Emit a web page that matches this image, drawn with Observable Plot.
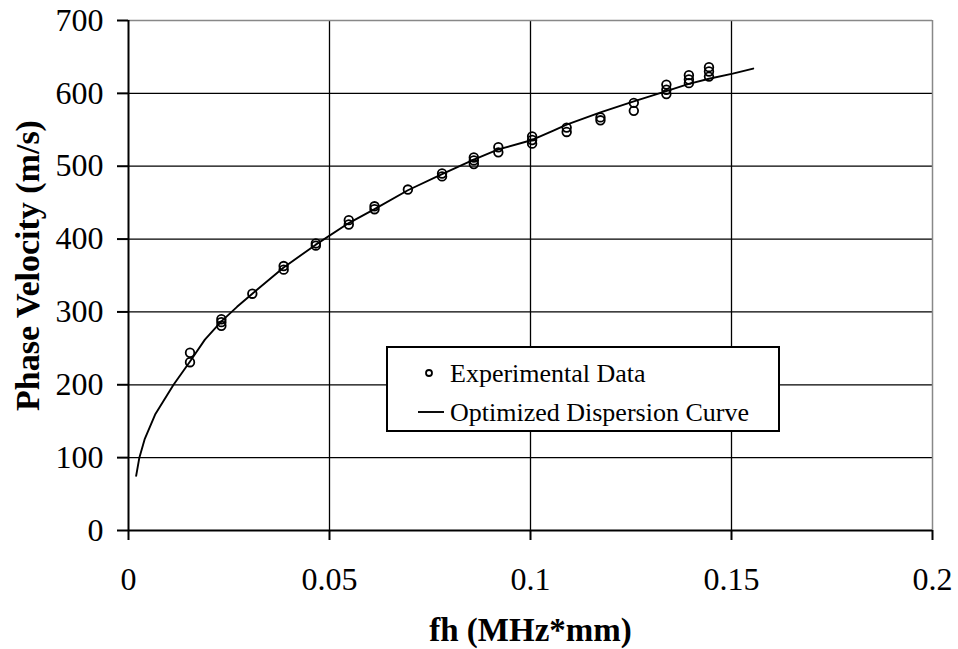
<!DOCTYPE html>
<html>
<head>
<meta charset="utf-8">
<script src="https://cdn.jsdelivr.net/npm/d3@7"></script>
<script src="https://cdn.jsdelivr.net/npm/@observablehq/plot@0.6"></script>
<style>
  html, body { margin: 0; padding: 0; background: white; }
  #wrap { position: relative; width: 958px; height: 649px; font-family: "Liberation Serif", "Times New Roman", serif; }
  #legend { position: absolute; left: 386px; top: 346px; width: 394px; height: 86px; box-sizing: border-box;
            border: 2px solid black; background: white; }
</style>
</head>
<body>
<div id="wrap"></div>
<script>
// Experimental data (fh in MHz*mm, phase velocity in m/s)
const expX = [
  0.0153, 0.0153,
  0.0231, 0.0231, 0.0231,
  0.0308,
  0.0386, 0.0386,
  0.0466, 0.0466,
  0.0548, 0.0548,
  0.0612, 0.0612,
  0.0695,
  0.0780, 0.0780,
  0.0859, 0.0859, 0.0859,
  0.0920, 0.0920,
  0.1004, 0.1004, 0.1004,
  0.1090, 0.1090,
  0.1174, 0.1174,
  0.1257, 0.1257,
  0.1338, 0.1338, 0.1338,
  0.1394, 0.1394, 0.1394,
  0.1444, 0.1444, 0.1444
];
const expY = [
  244, 231,
  290, 286, 281,
  325,
  358, 363,
  391, 394,
  420, 426,
  441, 445,
  468,
  486, 490,
  503, 508, 512,
  519, 526,
  531, 536, 541,
  547, 553,
  563, 567,
  576, 587,
  599, 605, 612,
  614, 619, 625,
  623, 630, 636
];
// Optimized dispersion curve
const curveX = [0.0019, 0.0027, 0.004, 0.0067, 0.0112, 0.0153, 0.0190, 0.0231, 0.0270, 0.0308,
  0.0386, 0.0465, 0.0548, 0.0612, 0.0695, 0.0780, 0.0859, 0.0920, 0.1004, 0.1057, 0.1090,
  0.1174, 0.1257, 0.1338, 0.1394, 0.1444, 0.1503, 0.1554];
const curveY = [75, 100, 125, 160, 200, 232, 262, 287, 307, 325,
  361, 392, 422, 441, 467, 489, 509, 523, 536, 549, 557,
  574, 589, 603, 613, 620, 627, 634];

const xTicks = [0, 0.05, 0.1, 0.15, 0.2];
const xTickLabels = ["0", "0.05", "0.1", "0.15", "0.2"];
const yTicks = [0, 100, 200, 300, 400, 500, 600, 700];
const xTitle = "fh (MHz*mm)";
const yTitle = "Phase Velocity (m/s)";
const legendLabels = ["Experimental Data", "Optimized Dispersion Curve"];

const points = expX.map((x, i) => ({x, y: expY[i]}));
const curve = curveX.map((x, i) => ({x, y: curveY[i]}));

const chart = Plot.plot({
  width: 958,
  height: 649,
  marginLeft: 128,
  marginRight: 26,
  marginTop: 20,
  marginBottom: 119,
  style: { fontFamily: "'Liberation Serif', 'Times New Roman', serif", fontSize: "32px", color: "black", background: "white", overflow: "visible" },
  x: { domain: [0, 0.2], ticks: xTicks, label: null },
  y: { domain: [0, 700], ticks: yTicks, label: null },
  marks: [
    Plot.ruleX(xTicks.slice(1, -1), { stroke: "black", strokeWidth: 1.3 }),
    Plot.ruleY(yTicks.slice(1, -1), { stroke: "black", strokeWidth: 1.3 }),
    Plot.ruleX([xTicks[xTicks.length - 1]], { stroke: "#888", strokeWidth: 1.5 }),
    Plot.ruleY([yTicks[yTicks.length - 1]], { stroke: "#888", strokeWidth: 1.5 }),
    Plot.line(curve, { x: "x", y: "y", stroke: "black", strokeWidth: 1.9 }),
    Plot.dot(points, { x: "x", y: "y", r: 4.3, stroke: "black", strokeWidth: 1.8, fill: "none" }),
    Plot.ruleX([0], { stroke: "black", strokeWidth: 2 }),
    Plot.ruleY([0], { stroke: "black", strokeWidth: 2 }),
    Plot.axisX({ ticks: xTicks, tickFormat: (d, i) => xTickLabels[i], tickSize: 10, tickPadding: 27, strokeWidth: 2, fontSize: 32 }),
    Plot.axisY({ ticks: yTicks, tickFormat: d => String(d), tickSize: 11, tickPadding: 14, strokeWidth: 2, fontSize: 32 }),
    Plot.text([xTitle], { frameAnchor: "bottom", dy: 100, fontWeight: "bold", fontSize: 33, textAnchor: "middle", lineAnchor: "middle", fill: "black" }),
    Plot.text([yTitle], { frameAnchor: "left", dx: -100, dy: -10, rotate: -90, fontWeight: "bold", fontSize: 34, textAnchor: "middle", lineAnchor: "middle", fill: "black" })
  ]
});

const wrap = document.getElementById("wrap");
wrap.appendChild(chart);

const legend = document.createElement("div");
legend.id = "legend";
legend.innerHTML = `
<svg width="390" height="82" style="position:absolute;left:0;top:0;font-family:'Liberation Serif','Times New Roman',serif;">
  <circle cx="41" cy="25" r="3" fill="none" stroke="black" stroke-width="1.8"></circle>
  <text x="62" y="25" dy="0.35em" font-size="26" fill="black">${legendLabels[0]}</text>
  <line x1="30" x2="56" y1="64" y2="64" stroke="black" stroke-width="1.9"></line>
  <text x="62" y="64" dy="0.35em" font-size="26" fill="black">${legendLabels[1]}</text>
</svg>`;
wrap.appendChild(legend);
</script>
</body>
</html>
